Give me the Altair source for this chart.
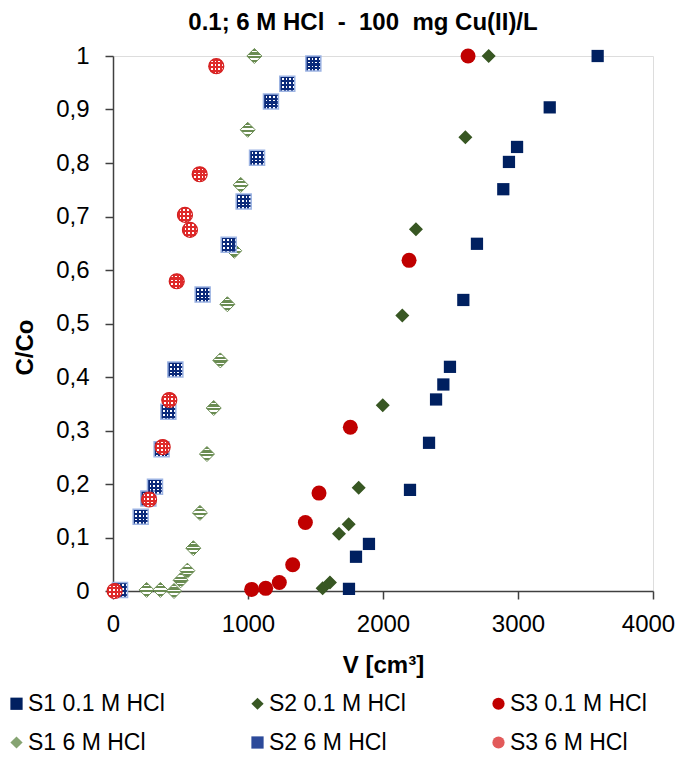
import altair as alt
import pandas as pd

TITLE = "0.1; 6 M HCl\u00a0 -\u00a0 100\u00a0 mg Cu(II)/L"
SERIES = ["S1 0.1 M HCl", "S2 0.1 M HCl", "S3 0.1 M HCl",
          "S1 6 M HCl", "S2 6 M HCl", "S3 6 M HCl"]

S1_01_V = [1748, 1800, 1896, 2200, 2341, 2393, 2447, 2496, 2595, 2696, 2891, 2933, 2993, 3235, 3590]
S1_01_C = [0.004, 0.064, 0.088, 0.189, 0.277, 0.358, 0.386, 0.419, 0.544, 0.649, 0.751, 0.802, 0.830, 0.904, 1.0]

S2_01_V = [1553, 1607, 1674, 1746, 1820, 1998, 2143, 2244, 2610, 2783]
S2_01_C = [0.005, 0.016, 0.107, 0.125, 0.193, 0.347, 0.515, 0.676, 0.848, 1.0]

S3_01_V = [1027, 1131, 1232, 1331, 1425, 1526, 1758, 2193, 2630]
S3_01_C = [0.003, 0.005, 0.016, 0.049, 0.128, 0.183, 0.306, 0.618, 1.0]

S1_6_V = [249, 351, 452, 501, 551, 595, 644, 696, 746, 795, 847, 898, 946, 998, 1047]
S1_6_C = [0.002, 0.002, 0.0, 0.02, 0.038, 0.080, 0.146, 0.256, 0.342, 0.431, 0.536, 0.636, 0.759, 0.862, 1.0]

S2_6_V = [52, 205, 262, 311, 360, 410, 462, 664, 857, 968, 1067, 1170, 1291, 1484]
S2_6_C = [0.002, 0.139, 0.173, 0.195, 0.265, 0.335, 0.414, 0.554, 0.647, 0.728, 0.810, 0.915, 0.948, 0.986]

S3_6_V = [12, 267, 368, 417, 472, 533, 570, 642, 765]
S3_6_C = [0.0, 0.171, 0.269, 0.357, 0.579, 0.703, 0.675, 0.779, 0.981]

X_TICKS = [0, 1000, 2000, 3000, 4000]
Y_TICKS = [0, 0.1, 0.2, 0.3, 0.4, 0.5, 0.6, 0.7, 0.8, 0.9, 1.0]

rows = []
for name, vs, cs in zip(SERIES,
                        [S1_01_V, S2_01_V, S3_01_V, S1_6_V, S2_6_V, S3_6_V],
                        [S1_01_C, S2_01_C, S3_01_C, S1_6_C, S2_6_C, S3_6_C]):
    for v, c in zip(vs, cs):
        rows.append({"series": name, "V": v, "C": c})
df = pd.DataFrame(rows)

FONT = "Liberation Sans"
COLORS = ["#002060", "#385723", "#c00000", "#86a472", "#2c4a9a", "#e25a5a"]
SHAPES = ["square", "diamond", "circle", "diamond", "square", "circle"]
AX = "#404040"


def stripes(c1, c2, n, frac, vertical):
    stops = []
    p = 1.0 / n
    for i in range(n):
        s = round(i * p, 4)
        m = round(i * p + p * frac, 4)
        e = round((i + 1) * p, 4)
        stops += [{"offset": s, "color": c1}, {"offset": m, "color": c1},
                  {"offset": m, "color": c2}, {"offset": e, "color": c2}]
    return {"gradient": "linear", "x1": 0, "y1": 0,
            "x2": 1 if vertical else 0, "y2": 0 if vertical else 1,
            "stops": stops}


x_enc = alt.X("V:Q", scale=alt.Scale(domain=[0, 4000], nice=False),
              axis=alt.Axis(values=X_TICKS, format="d", title="V [cm³]", grid=False,
                            ticks=True, domainColor=AX, domainWidth=1.5, tickColor=AX, tickWidth=1.5,
                            tickSize=8, labelFont=FONT, labelFontSize=24, labelColor="black",
                            labelPadding=13, labelFlush=False,
                            labelOffset={"condition": {"test": "datum.value == 4000", "value": -5}, "value": 0},
                            titleFont=FONT, titleFontSize=24,
                            titleFontWeight="bold", titleColor="black", titlePadding=17))
y_enc = alt.Y("C:Q", scale=alt.Scale(domain=[0, 1], nice=False),
              axis=alt.Axis(values=Y_TICKS, labelExpr="replace(format(datum.value,'.1~f'),'.',',')",
                            title="C/Co", grid=False,
                            ticks=True, domainColor=AX, domainWidth=1.5, tickColor=AX, tickWidth=1.5,
                            tickSize=8, labelFont=FONT, labelFontSize=24, labelColor="black",
                            labelPadding=16, labelFlush=False, titleFont=FONT, titleFontSize=24,
                            titleFontWeight="bold", titleColor="black", titlePadding=18,
                            titleY=291))

legend = alt.Legend(orient="none", legendX=-108, legendY=636, columns=3, direction="horizontal",
                    title=None, labelFont=FONT, labelFontSize=23, labelColor="black", labelLimit=300,
                    symbolSize=150, labelOffset=0, columnPadding=81, rowPadding=15,
                    padding=0, symbolStrokeWidth=0)

base = alt.Chart(df).mark_point(filled=True, opacity=1, strokeWidth=0, size=150).encode(
    x=x_enc, y=y_enc,
    color=alt.Color("series:N", scale=alt.Scale(domain=SERIES, range=COLORS), legend=legend),
    shape=alt.Shape("series:N", scale=alt.Scale(domain=SERIES, range=SHAPES), legend=legend),
)

GREEN = "#6a8c52"
NAVY = "#0b2a7a"
RED = "#df2a2a"
CLEAR = "rgba(255,255,255,0)"


def overlay(series, shape, size, fill, stroke, sw):
    return alt.Chart(df).transform_filter(alt.datum.series == series).mark_point(
        shape=shape, size=size, filled=True, opacity=1, fill=fill,
        stroke=stroke, strokeWidth=sw, strokeOpacity=1 if sw > 0 else 0
    ).encode(x=x_enc, y=y_enc)


layers = [
    base,
    overlay("S2 0.1 M HCl", "diamond", 196, COLORS[1], COLORS[1], 0),
    overlay("S3 0.1 M HCl", "circle", 225, COLORS[2], COLORS[2], 0),
    overlay("S1 6 M HCl", "diamond", 225, stripes(GREEN, "#ffffff", 4, 0.6, False), GREEN, 1),
    overlay("S2 6 M HCl", "square", 225, stripes(NAVY, "#ffffff", 4, 0.55, False), NAVY, 0),
    overlay("S2 6 M HCl", "square", 225, stripes(NAVY, CLEAR, 4, 0.55, True), "#9db4e3", 1.5),
    overlay("S3 6 M HCl", "circle", 225, stripes(RED, "#ffffff", 4, 0.55, False), RED, 0),
    overlay("S3 6 M HCl", "circle", 225, stripes(RED, CLEAR, 4, 0.55, True), "#d42020", 1.2),
]

chart = alt.layer(*layers).properties(
    width=540, height=535,
    autosize=alt.AutoSizeParams(type="none"),
    padding={"left": 105, "top": 48, "right": 24, "bottom": 166},
    title=alt.TitleParams(TITLE, font=FONT, fontSize=24, fontWeight="bold", color="black",
                          anchor="middle", dx=-20, dy=-5),
).configure_view(stroke="transparent").configure(background="white")

chart.save("out.html", embed_options={"renderer": "svg", "actions": False})
